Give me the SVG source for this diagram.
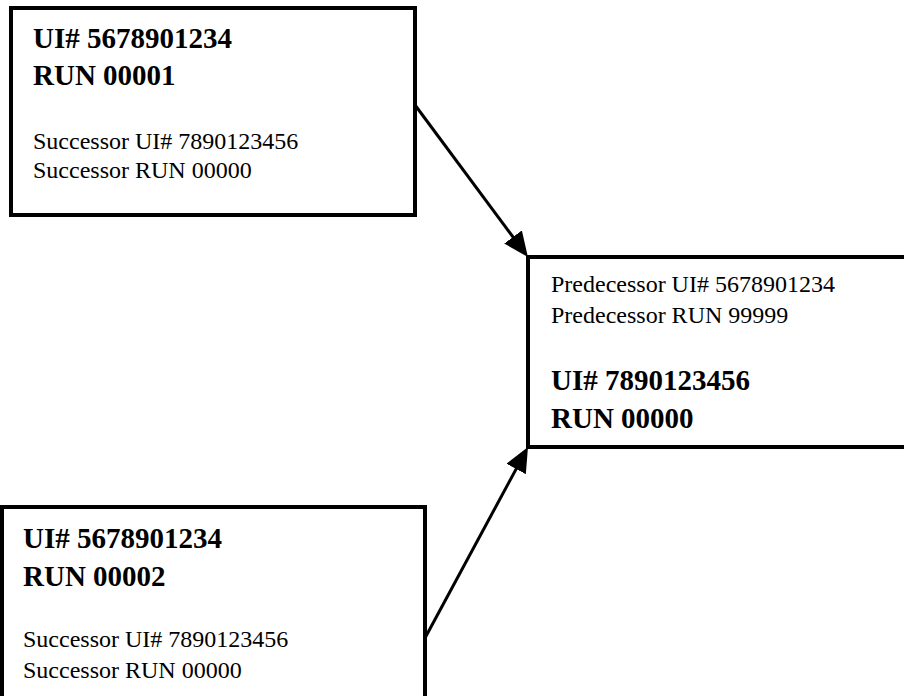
<svg xmlns="http://www.w3.org/2000/svg" width="904" height="696" viewBox="0 0 904 696">
<style>
.box{fill:#fff;stroke:#000;stroke-width:4}
.t{font-family:"Liberation Serif","Times New Roman",serif;fill:#000}
.b{font-size:29px;font-weight:bold}
.n{font-size:24px}
.c{stroke:#000;stroke-width:3;fill:none}
</style>
<defs>
<marker id="ah" viewBox="0 0 25 22" refX="5" refY="11" markerWidth="25" markerHeight="22" markerUnits="userSpaceOnUse" orient="auto">
<path d="M0,0 L25,11 L0,22 z" fill="#000"/>
</marker>
</defs>
<rect width="904" height="696" fill="#fff"/>
<g id="connectors">
<line class="c" x1="415" y1="105" x2="516" y2="241" marker-end="url(#ah)"/>
<line class="c" x1="425" y1="638" x2="518.5" y2="464.6" marker-end="url(#ah)"/>
</g>
<g id="node1">
<rect class="box" x="11" y="8" width="404" height="207"/>
<text class="t b" x="33" y="48">UI# 5678901234</text>
<text class="t b" x="33" y="85">RUN 00001</text>
<text class="t n" x="33" y="149">Successor UI# 7890123456</text>
<text class="t n" x="33" y="178">Successor RUN 00000</text>
</g>
<g id="node2">
<rect class="box" x="528" y="257" width="400" height="190"/>
<text class="t n" x="551" y="292">Predecessor UI# 5678901234</text>
<text class="t n" x="551" y="323">Predecessor RUN 99999</text>
<text class="t b" x="551" y="390">UI# 7890123456</text>
<text class="t b" x="551" y="428">RUN 00000</text>
</g>
<g id="node3">
<rect class="box" x="2" y="507" width="423" height="200"/>
<text class="t b" x="23" y="548">UI# 5678901234</text>
<text class="t b" x="23" y="586">RUN 00002</text>
<text class="t n" x="23" y="647">Successor UI# 7890123456</text>
<text class="t n" x="23" y="678">Successor RUN 00000</text>
</g>
</svg>
